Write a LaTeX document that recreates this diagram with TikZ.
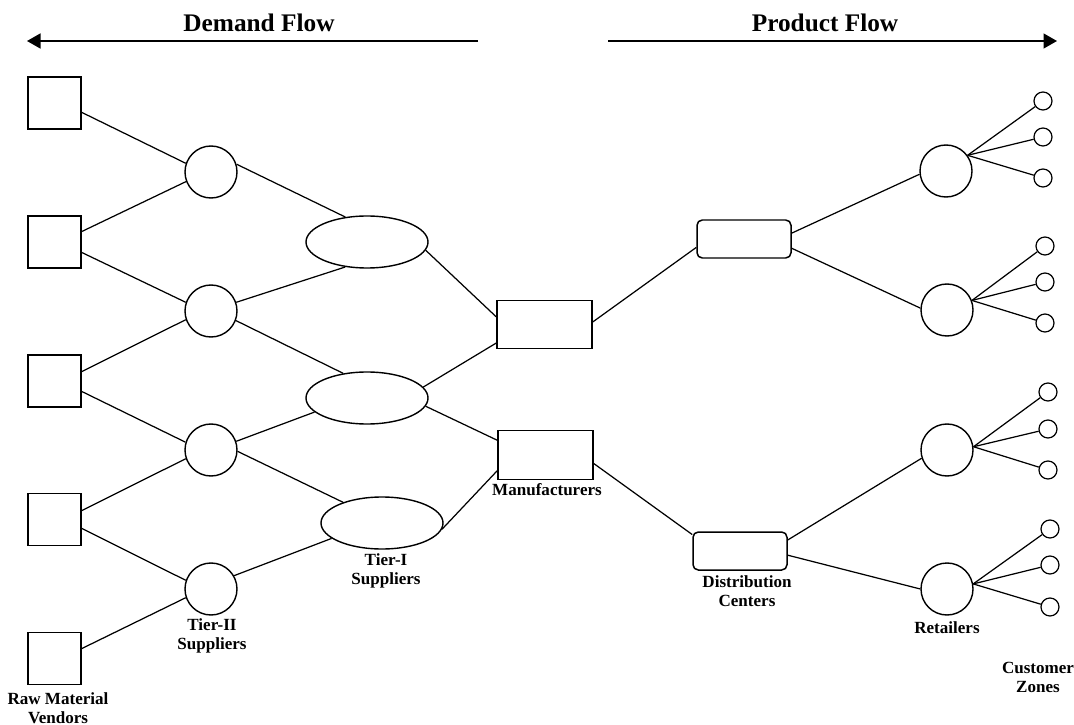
\documentclass[tikz,border=0pt]{standalone}
\usepackage{fontspec}
\setmainfont{Liberation Serif}
\usetikzlibrary{shapes, arrows.meta, positioning}

\begin{document}
\begin{tikzpicture}[
  vendor/.style={draw, line width=0.85pt, minimum width=1.06cm, minimum height=1.04cm, inner sep=0pt},
  tiertwo/.style={draw, circle, line width=0.8pt, minimum size=1.04cm, inner sep=0pt},
  tierone/.style={draw, ellipse, line width=0.8pt, minimum width=2.44cm, minimum height=1.04cm, inner sep=0pt},
  plant/.style={draw, line width=0.85pt, minimum width=1.9cm, minimum height=0.97cm, inner sep=0pt},
  dcbox/.style={draw, rounded corners=3pt, line width=0.85pt, minimum width=1.88cm, minimum height=0.76cm, inner sep=0pt},
  retail/.style={draw, circle, line width=0.8pt, minimum size=1.04cm, inner sep=0pt},
  zone/.style={draw, circle, line width=0.7pt, minimum size=0.36cm, inner sep=0pt},
  lbl/.style={font=\fontsize{9.7}{10.8}\selectfont\bfseries, align=center},
  flowlbl/.style={font=\fontsize{14.4}{16}\selectfont\bfseries},
  link/.style={line width=0.7pt},
  flow/.style={-{Triangle[length=0.27cm, width=0.3cm]}, line width=0.85pt}
]
  \useasboundingbox (0,0) rectangle (21.48,-14.5);

  % Flow arrows
  \node[flowlbl] (demand) at (5.18,-0.46) {Demand Flow};
  \node[flowlbl] (product) at (16.5,-0.46) {Product Flow};
  \coordinate (demandA) at (9.56,-0.82);
  \coordinate (demandB) at (0.54,-0.82);
  \coordinate (productA) at (12.16,-0.82);
  \coordinate (productB) at (21.14,-0.82);
  \draw[flow] (demandA) -- (demandB);
  \draw[flow] (productA) -- (productB);

  % Raw material vendors
  \node[vendor] (rm1) at (1.09,-2.06) {};
  \node[vendor] (rm2) at (1.09,-4.84) {};
  \node[vendor] (rm3) at (1.09,-7.62) {};
  \node[vendor] (rm4) at (1.09,-10.39) {};
  \node[vendor] (rm5) at (1.09,-13.17) {};

  % Tier-II suppliers
  \node[tiertwo] (t2a) at (4.22,-3.44) {};
  \node[tiertwo] (t2b) at (4.22,-6.22) {};
  \node[tiertwo] (t2c) at (4.22,-9.00) {};
  \node[tiertwo] (t2d) at (4.22,-11.78) {};

  % Tier-I suppliers
  \node[tierone] (t1a) at (7.34,-4.84) {};
  \node[tierone] (t1b) at (7.34,-7.96) {};
  \node[tierone] (t1c) at (7.64,-10.46) {};

  % Manufacturers
  \node[plant] (mf1) at (10.89,-6.49) {};
  \node[plant] (mf2) at (10.91,-9.10) {};

  % Distribution centers
  \node[dcbox] (dc1) at (14.88,-4.78) {};
  \node[dcbox] (dc2) at (14.80,-11.02) {};

  % Retailers
  \node[retail] (rt1) at (18.92,-3.42) {};
  \node[retail] (rt2) at (18.94,-6.20) {};
  \node[retail] (rt3) at (18.94,-9.00) {};
  \node[retail] (rt4) at (18.94,-11.78) {};

  % Customer zones
  \node[zone] (cz1) at (20.86,-2.02) {};
  \node[zone] (cz2) at (20.86,-2.74) {};
  \node[zone] (cz3) at (20.86,-3.56) {};
  \node[zone] (cz4) at (20.90,-4.92) {};
  \node[zone] (cz5) at (20.90,-5.64) {};
  \node[zone] (cz6) at (20.90,-6.46) {};
  \node[zone] (cz7) at (20.96,-7.84) {};
  \node[zone] (cz8) at (20.96,-8.58) {};
  \node[zone] (cz9) at (20.96,-9.40) {};
  \node[zone] (cz10) at (21.00,-10.58) {};
  \node[zone] (cz11) at (21.00,-11.30) {};
  \node[zone] (cz12) at (21.00,-12.14) {};

  % Links
  \draw[link] (rm1.-19) -- (t2a.161);
  \draw[link] (rm2.21) -- (t2a.201);
  \draw[link] (rm2.-21) -- (t2b.161);
  \draw[link] (rm3.19) -- (t2b.199);
  \draw[link] (rm3.-21) -- (t2c.163);
  \draw[link] (rm4.18) -- (t2c.199);
  \draw[link] (rm4.-18) -- (t2d.161);
  \draw[link] (rm5.20) -- (t2d.199);

  \draw[link] (t2a.17) -- (t1a.131);
  \draw[link] (t2b.19) -- (t1a.-131);
  \draw[link] (t2b.-21) -- (t1b.134);
  \draw[link] (t2c.19) -- (t1b.-165);
  \draw[link] (t2c.-3) -- (t1c.152);
  \draw[link] (t2d.30) -- (t1c.-163);

  \draw[link] (t1a.-8) -- (mf1.171);
  \draw[link] (t1b.11) -- (mf1.201);
  \draw[link] (t1b.-8) -- (mf2.163);
  \draw[link] (t1c.-6) -- (mf2.198);

  \draw[link] (mf1.3) -- (dc1.190);
  \draw[link] (mf2.-10) -- (dc2.161);

  \draw[link] (dc1.7) -- (rt1.187);
  \draw[link] (dc1.-11) -- (rt2.176);
  \draw[link] (dc2.13) -- (rt3.198);
  \draw[link] (dc2.-5) -- (rt4.180);

  \draw[link] (rt1.36) -- (cz1);
  \draw[link] (rt1.36) -- (cz2);
  \draw[link] (rt1.36) -- (cz3);
  \draw[link] (rt2.21) -- (cz4);
  \draw[link] (rt2.21) -- (cz5);
  \draw[link] (rt2.21) -- (cz6);
  \draw[link] (rt3.7) -- (cz7);
  \draw[link] (rt3.7) -- (cz8);
  \draw[link] (rt3.7) -- (cz9);
  \draw[link] (rt4.11) -- (cz10);
  \draw[link] (rt4.11) -- (cz11);
  \draw[link] (rt4.11) -- (cz12);

  % Labels
  \node[lbl] (rmlbl) at (1.16,-14.17) {Raw Material\\Vendors};
  \node[lbl] (t2lbl) at (4.24,-12.72) {Tier-II\\Suppliers};
  \node[lbl] (t1lbl) at (7.72,-11.42) {Tier-I\\Suppliers};
  \node[lbl] (mflbl) at (10.94,-9.80) {Manufacturers};
  \node[lbl] (dclbl) at (14.94,-11.82) {Distribution\\Centers};
  \node[lbl] (rtlbl) at (18.94,-12.56) {Retailers};
  \node[lbl] (czlbl) at (20.76,-13.54) {Customer\\Zones};
\end{tikzpicture}
\end{document}
